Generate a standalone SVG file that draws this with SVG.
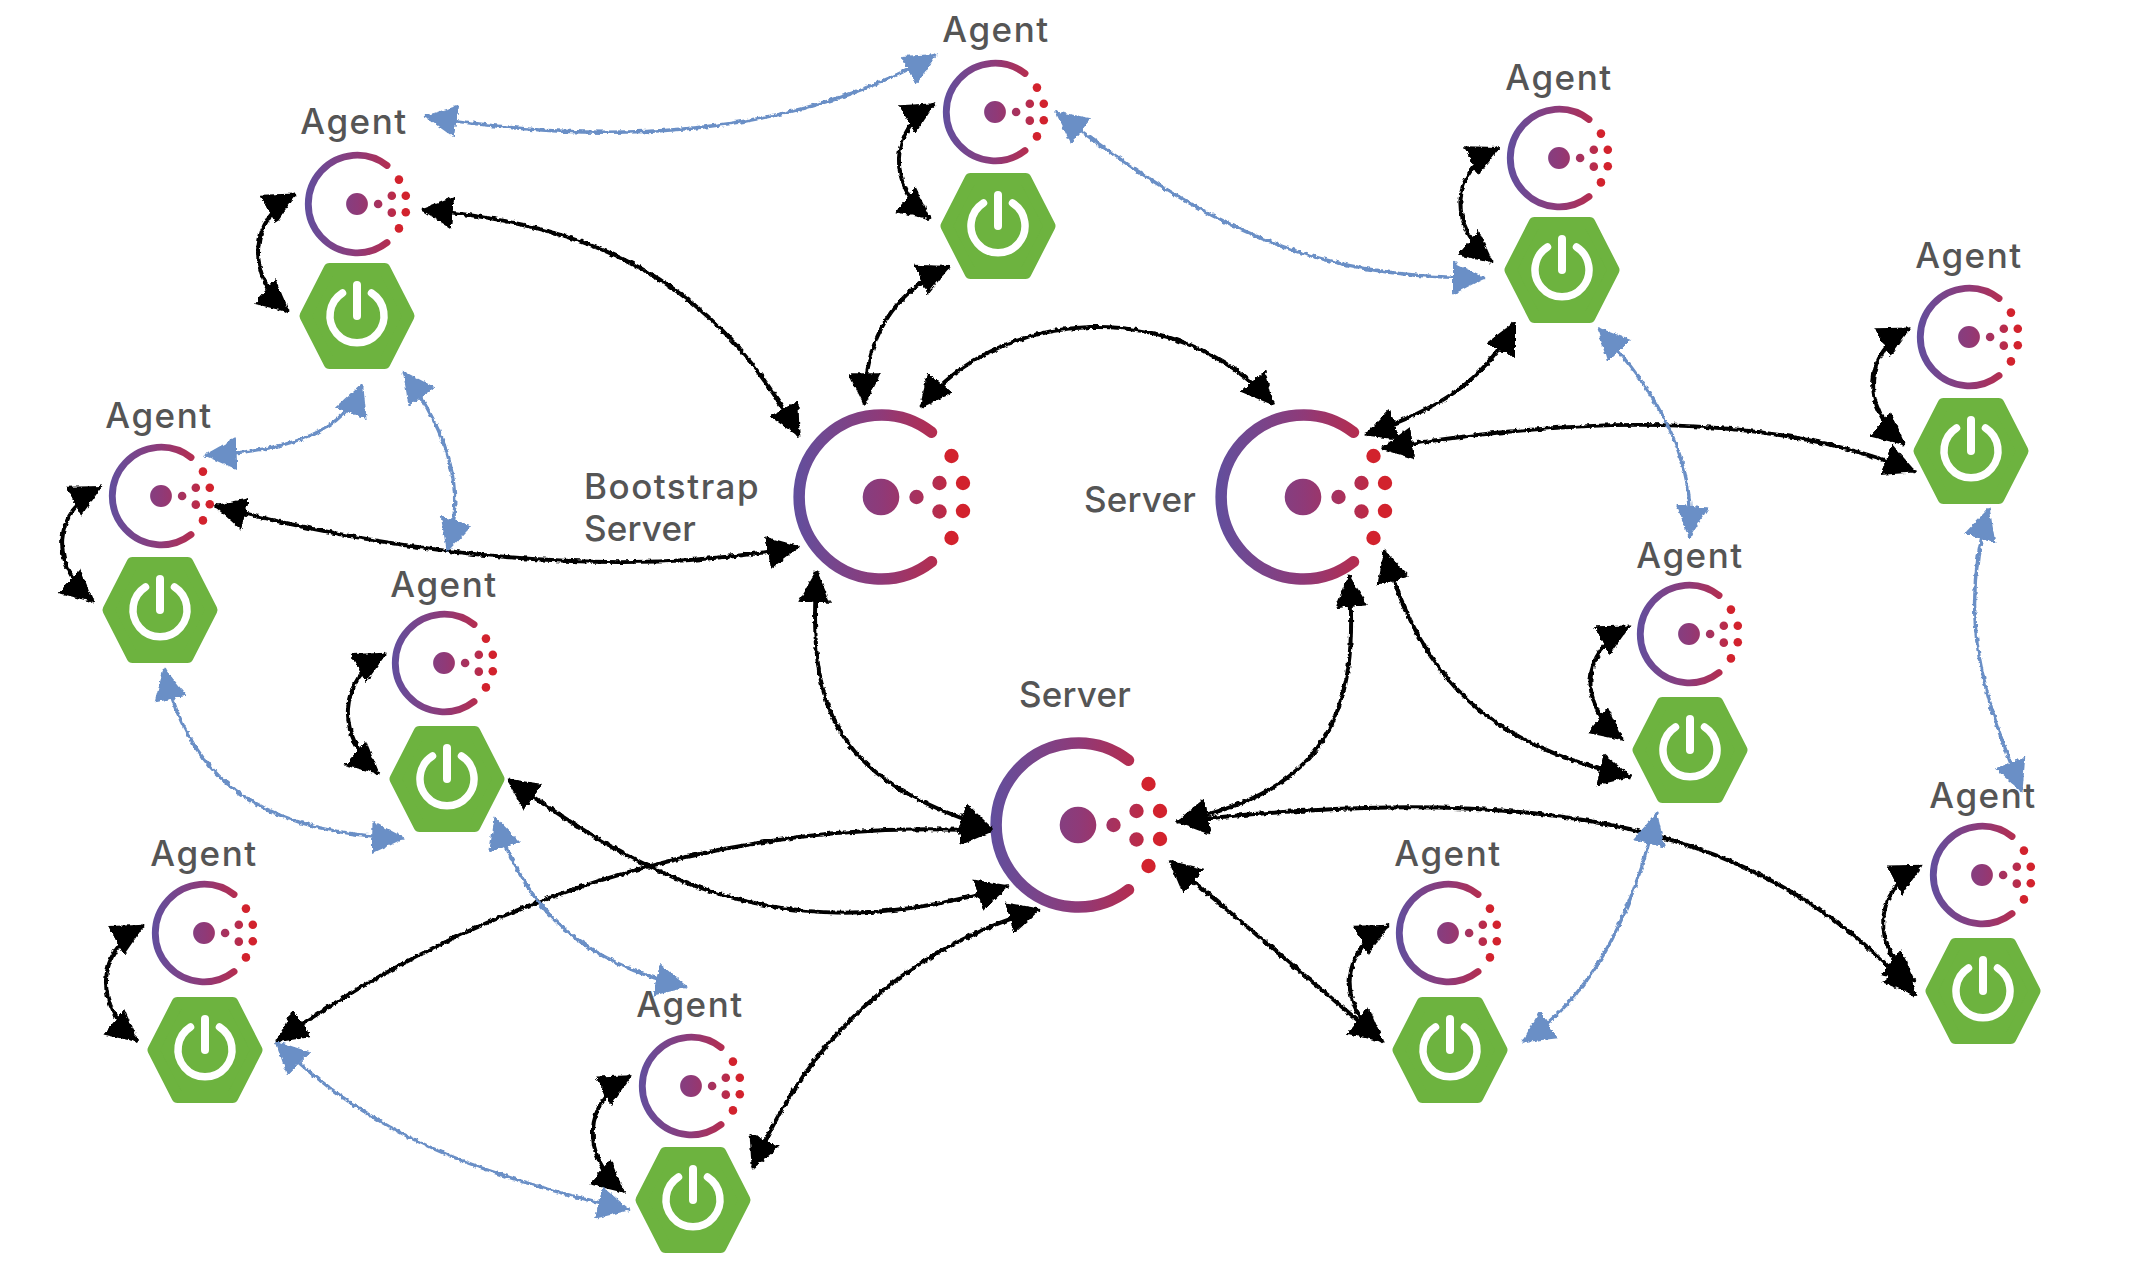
<svg xmlns="http://www.w3.org/2000/svg" xmlns:xlink="http://www.w3.org/1999/xlink" width="2146" height="1286" viewBox="0 0 2146 1286">
<style>
text{font-family:"Inter","Open Sans","Liberation Sans",sans-serif;font-weight:500;fill:#555;font-size:35px;letter-spacing:1.5px}
text.s{letter-spacing:.2px}
.m{text-anchor:middle}
.k{fill:none;stroke:#000;stroke-width:2.9;marker-start:url(#hk);marker-end:url(#hk)}
.b{fill:none;stroke:#6a8fc6;stroke-width:2.5;marker-start:url(#hb);marker-end:url(#hb)}
</style>
<defs>
<linearGradient id="cg" gradientUnits="userSpaceOnUse" x1="-88" y1="0" x2="90" y2="0">
<stop offset="0" stop-color="#614f9e"/><stop offset=".5" stop-color="#8f3a78"/><stop offset=".8" stop-color="#b42d50"/><stop offset="1" stop-color="#d2202c"/>
</linearGradient>
<g id="consul">
<path d="M50.5,-64.7A82,82 0 1 0 50.5,64.7" fill="none" stroke="url(#cg)" stroke-width="11.5" stroke-linecap="round"/>
<g fill="url(#cg)"><circle r="18.3"/><circle cx="35.5" r="7.2"/><circle cx="58.5" cy="-14" r="7.2"/><circle cx="58.5" cy="14.5" r="7.2"/></g>
<g fill="#d2222d"><circle cx="82" cy="-14" r="7.2"/><circle cx="82" cy="14" r="7.2"/><circle cx="70.5" cy="-41" r="7.2"/><circle cx="70.5" cy="41" r="7.2"/></g>
</g>
<g id="spring">
<path d="M-51.5,0L-27.5,-47H27.5L51.5,0L27.5,47H-27.5Z" fill="#6db33f" stroke="#6db33f" stroke-width="12" stroke-linejoin="round"/>
<path d="M-14.5,-23A27,27 0 1 0 14.5,-23" fill="none" stroke="#fff" stroke-width="7.5" stroke-linecap="round"/>
<path d="M0,-31V0" fill="none" stroke="#fff" stroke-width="8" stroke-linecap="round"/>
</g>
<marker id="hk" viewBox="0 0 24 26" markerUnits="userSpaceOnUse" markerWidth="24" markerHeight="26" refX="23" refY="13" orient="auto-start-reverse"><path d="M0,1L24,13L0,25Z" fill="#000"/></marker>
<marker id="hb" viewBox="0 0 24 26" markerUnits="userSpaceOnUse" markerWidth="24" markerHeight="26" refX="23" refY="13" orient="auto-start-reverse"><path d="M0,1L24,13L0,25Z" fill="#6a8fc6"/></marker>
<filter id="rough" filterUnits="userSpaceOnUse" x="0" y="0" width="1570" height="941">
<feTurbulence type="fractalNoise" baseFrequency="0.3" numOctaves="2" seed="4"/>
<feDisplacementMap in="SourceGraphic" scale="3.2" xChannelSelector="R" yChannelSelector="G"/>
</filter>
</defs>

<g id="server-bootstrap"><use href="#consul" x="881" y="497"/><text x="584" y="499">Bootstrap</text><text class="s" x="584" y="541">Server</text></g>
<g id="server-right"><use href="#consul" x="1303" y="497"/><text class="m s" x="1140" y="512">Server</text></g>
<g id="server-bottom"><use href="#consul" x="1078" y="825"/><text class="m s" x="1075" y="707">Server</text></g>

<g id="agent-1"><text class="m" x="354" y="134">Agent</text><use href="#consul" transform="translate(357,204) scale(.595)"/><use href="#spring" x="357" y="316"/></g>
<g id="agent-2"><text class="m" x="996" y="42">Agent</text><use href="#consul" transform="translate(995,112) scale(.595)"/><use href="#spring" x="998" y="226"/></g>
<g id="agent-3"><text class="m" x="1559" y="90">Agent</text><use href="#consul" transform="translate(1559,158) scale(.595)"/><use href="#spring" x="1562" y="270"/></g>
<g id="agent-4"><text class="m" x="1969" y="268">Agent</text><use href="#consul" transform="translate(1969,337) scale(.595)"/><use href="#spring" x="1971" y="451"/></g>
<g id="agent-5"><text class="m" x="159" y="428">Agent</text><use href="#consul" transform="translate(161,496) scale(.595)"/><use href="#spring" x="160" y="610"/></g>
<g id="agent-6"><text class="m" x="444" y="597">Agent</text><use href="#consul" transform="translate(444,663) scale(.595)"/><use href="#spring" x="447" y="779"/></g>
<g id="agent-7"><text class="m" x="1690" y="568">Agent</text><use href="#consul" transform="translate(1689,634) scale(.595)"/><use href="#spring" x="1690" y="750"/></g>
<g id="agent-8"><text class="m" x="1983" y="808">Agent</text><use href="#consul" transform="translate(1982,875) scale(.595)"/><use href="#spring" x="1983" y="991"/></g>
<g id="agent-9"><text class="m" x="204" y="866">Agent</text><use href="#consul" transform="translate(204,933) scale(.595)"/><use href="#spring" x="205" y="1050"/></g>
<g id="agent-10"><text class="m" x="690" y="1017">Agent</text><use href="#consul" transform="translate(691,1086) scale(.595)"/><use href="#spring" x="693" y="1200"/></g>
<g id="agent-11"><text class="m" x="1448" y="866">Agent</text><use href="#consul" transform="translate(1448,933) scale(.595)"/><use href="#spring" x="1450" y="1050"/></g>

<g id="connectors" transform="scale(1.368,1.367)" filter="url(#rough)">
<path class="k" d="M216,142C183,160 178,200 211,228"/>
<path class="k" d="M683,76C650,95 648,135 680,160"/>
<path class="k" d="M1096,108C1060,125 1058,165 1091,192"/>
<path class="k" d="M1396,240C1362,258 1360,298 1392,325"/>
<path class="k" d="M74,356C38,375 36,412 68,440"/>
<path class="k" d="M282,478C247,497 245,538 277,566"/>
<path class="k" d="M1191,458C1155,477 1153,515 1186,541"/>
<path class="k" d="M1405,633C1369,652 1367,692 1400,718"/>
<path class="k" d="M105,677C70,696 68,735 101,762"/>
<path class="k" d="M461,787C426,806 424,845 456,872"/>
<path class="k" d="M1015,677C979,696 977,735 1010,761"/>
<path class="k" d="M308,153C430,165 520,200 584,319"/>
<path class="k" d="M694,195C650,215 632,250 632,296"/>
<path class="k" d="M673,298C730,225 860,215 931,296"/>
<path class="k" d="M998,318C1050,300 1085,280 1107,236"/>
<path class="k" d="M1010,328C1150,305 1290,300 1400,345"/>
<path class="k" d="M157,370C290,405 450,425 584,400"/>
<path class="k" d="M597,418C590,520 610,570 725,606"/>
<path class="k" d="M986,421C995,520 970,580 860,601"/>
<path class="k" d="M1012,403C1040,500 1090,545 1192,568"/>
<path class="k" d="M860,601C1100,575 1280,590 1400,728"/>
<path class="k" d="M855,630L1011,762"/>
<path class="k" d="M371,570C470,640 570,700 737,648"/>
<path class="k" d="M202,762C340,665 520,596 725,608"/>
<path class="k" d="M550,855C590,760 660,695 760,665"/>
<path class="b" d="M311,85C430,105 570,105 684,40"/>
<path class="b" d="M772,82C880,165 960,205 1085,203"/>
<path class="b" d="M1168,240C1215,290 1240,340 1235,393"/>
<path class="b" d="M265,281C252,315 215,330 150,333"/>
<path class="b" d="M295,272C330,320 340,360 327,403"/>
<path class="b" d="M1454,372C1430,450 1450,510 1478,579"/>
<path class="b" d="M120,489C135,560 180,610 295,613"/>
<path class="b" d="M362,598C385,670 430,705 502,722"/>
<path class="b" d="M202,762C270,830 350,860 460,885"/>
<path class="b" d="M1211,595C1195,660 1170,725 1113,762"/>
</g>
</svg>
